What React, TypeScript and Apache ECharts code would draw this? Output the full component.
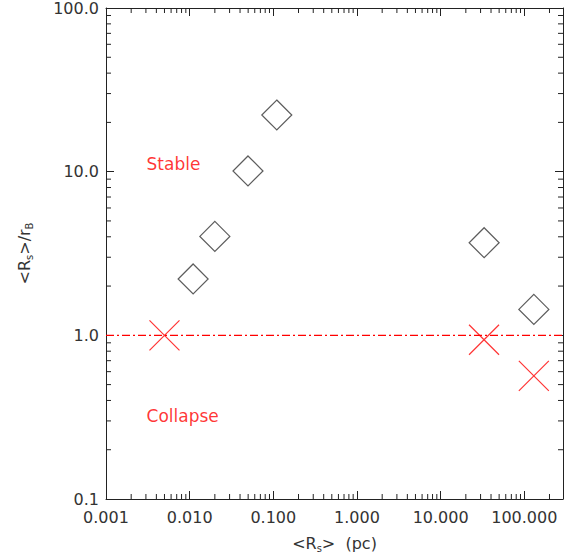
import React, { useEffect, useRef } from 'react';
import * as echarts from 'echarts';

// ---- data ----
const stableX = [0.011, 0.02, 0.0498, 0.11, 33.1, 130];
const stableY = [2.21, 4.02, 10.1, 22.2, 3.68, 1.44];
const collapseX = [0.005, 33.0, 130];
const collapseY = [1.0, 0.94, 0.565];
const thresholdY = 1.0;
const xRange = [0.001, 290];
const yRange = [0.1, 100];
const annotationText = ['Stable', 'Collapse'];
const annotationX = [0.00305, 0.00305];
const annotationY = [11.1, 0.323];

const FONT = 'DejaVu Sans';
const LINE = '#222';
const TEXT = '#333';
const RED = '#ff0000';

function minorTicks(min: number, max: number): number[] {
  const out: number[] = [];
  for (let k = Math.floor(Math.log10(min)); k <= Math.ceil(Math.log10(max)); k++) {
    for (let m = 2; m <= 9; m++) {
      const v = m * Math.pow(10, k);
      if (v > min && v < max) out.push(v);
    }
  }
  return out;
}

const subRich = {
  s: { fontSize: 10, fontFamily: FONT, color: TEXT, verticalAlign: 'bottom', lineHeight: 12 },
};

function buildOption() {
  const xMinor = minorTicks(xRange[0], xRange[1]);
  const yMinor = minorTicks(yRange[0], yRange[1]);
  const axisCommon = {
    type: 'log',
    logBase: 10,
    axisLine: { show: true, lineStyle: { color: LINE, width: 1 } },
    axisTick: { show: true, inside: true, length: 8, lineStyle: { color: LINE } },
    splitLine: { show: false },
    minorTick: { show: false },
  };
  return {
    animation: false,
    backgroundColor: '#fff',
    grid: { left: 106, right: 13, top: 3, bottom: 60 },
    xAxis: [
      {
        ...axisCommon,
        position: 'bottom',
        min: xRange[0],
        max: xRange[1],
        axisLabel: {
          show: true,
          interval: 0,
          margin: 10,
          showMaxLabel: false,
          color: TEXT,
          fontFamily: FONT,
          fontSize: 16,
          formatter: (v: number) => (v > 150 ? '' : v.toFixed(3)),
        },
        name: '<R{s|s}>  (pc)',
        nameLocation: 'middle',
        nameGap: 34,
        nameTextStyle: { color: TEXT, fontFamily: FONT, fontSize: 16, lineHeight: 20, rich: subRich },
      },
      {
        ...axisCommon,
        position: 'top',
        min: xRange[0],
        max: xRange[1],
        axisLabel: { show: false },
      },
    ],
    yAxis: [
      {
        ...axisCommon,
        position: 'left',
        min: yRange[0],
        max: yRange[1],
        axisLabel: {
          show: true,
          interval: 0,
          margin: 7,
          color: TEXT,
          fontFamily: FONT,
          fontSize: 16,
          formatter: (v: number) => v.toFixed(1),
        },
        name: '<R{s|s}>/r{s|B}',
        nameLocation: 'middle',
        nameRotate: 90,
        nameGap: 72,
        nameTextStyle: { color: TEXT, fontFamily: FONT, fontSize: 16, lineHeight: 20, rich: subRich },
      },
      {
        ...axisCommon,
        position: 'right',
        min: yRange[0],
        max: yRange[1],
        axisLabel: { show: false },
      },
    ],
    series: [
      {
        type: 'custom',
        name: 'xMinor',
        silent: true,
        clip: false,
        data: xMinor.map((v) => [v, 1]),
        renderItem: (params: any, api: any) => {
          const v = api.value(0);
          const b = api.coord([v, yRange[0]]);
          const t = api.coord([v, yRange[1]]);
          const style = { stroke: LINE, lineWidth: 1 };
          return {
            type: 'group',
            children: [
              { type: 'line', shape: { x1: b[0], y1: b[1], x2: b[0], y2: b[1] - 5 }, style },
              { type: 'line', shape: { x1: t[0], y1: t[1], x2: t[0], y2: t[1] + 5 }, style },
            ],
          };
        },
      },
      {
        type: 'custom',
        name: 'yMinor',
        silent: true,
        clip: false,
        data: yMinor.map((v) => [1, v]),
        renderItem: (params: any, api: any) => {
          const v = api.value(1);
          const l = api.coord([xRange[0], v]);
          const r = api.coord([xRange[1], v]);
          const style = { stroke: LINE, lineWidth: 1 };
          return {
            type: 'group',
            children: [
              { type: 'line', shape: { x1: l[0], y1: l[1], x2: l[0] + 5, y2: l[1] }, style },
              { type: 'line', shape: { x1: r[0], y1: r[1], x2: r[0] - 5, y2: r[1] }, style },
            ],
          };
        },
      },
      {
        type: 'line',
        name: 'threshold',
        data: [
          [xRange[0], thresholdY],
          [xRange[1], thresholdY],
        ],
        symbol: 'none',
        silent: true,
        itemStyle: { color: RED },
        lineStyle: { color: RED, width: 1.3, type: [8, 3, 2, 3] },
      },
      {
        type: 'scatter',
        name: 'Stable',
        symbol: 'diamond',
        symbolSize: [30, 30],
        itemStyle: { color: 'rgba(0,0,0,0)', borderColor: '#333', borderWidth: 1.2 },
        data: stableX.map((x, i) => [x, stableY[i]]),
      },
      {
        type: 'scatter',
        name: 'Collapse',
        symbol: 'path://M0,0L10,10M10,0L0,10',
        symbolSize: [30, 30],
        itemStyle: { color: 'none', borderColor: RED, borderWidth: 1.2 },
        data: collapseX.map((x, i) => [x, collapseY[i]]),
      },
      {
        type: 'scatter',
        name: 'annotations',
        symbolSize: 0,
        silent: true,
        label: {
          show: true,
          position: 'right',
          distance: 0,
          color: RED,
          fontFamily: FONT,
          fontSize: 17,
          formatter: (p: any) => annotationText[p.dataIndex],
        },
        data: annotationX.map((x, i) => [x, annotationY[i]]),
      },
    ],
  };
}

export default function App() {
  const ref = useRef<HTMLDivElement>(null);
  useEffect(() => {
    if (!ref.current) return;
    const chart = echarts.init(ref.current, null, { renderer: 'svg' });
    chart.setOption(buildOption() as any);
    return () => chart.dispose();
  }, []);
  return (
    <div
      ref={ref}
      style={{ position: 'fixed', left: 0, top: 0, width: 576, height: 559, background: '#fff' }}
    />
  );
}
